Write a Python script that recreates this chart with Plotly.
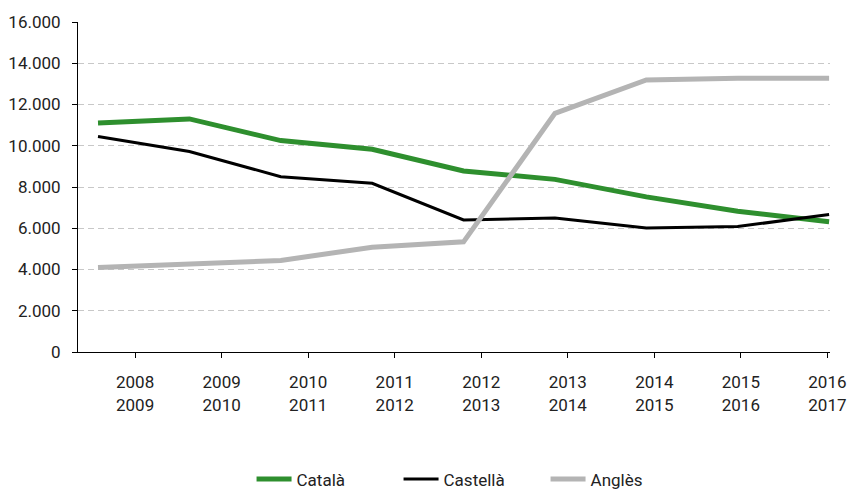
import plotly.graph_objects as go

periods = ["2008<br>2009", "2009<br>2010", "2010<br>2011", "2011<br>2012", "2012<br>2013",
           "2013<br>2014", "2014<br>2015", "2015<br>2016", "2016<br>2017"]
catala = [11100, 11300, 10250, 9830, 8780, 8370, 7520, 6820, 6320]
castella = [10450, 9720, 8500, 8180, 6400, 6500, 6010, 6080, 6670]
angles = [4100, 4280, 4440, 5080, 5340, 11570, 13190, 13270, 13270]
y_ticks = list(range(0, 16001, 2000))

FONT = "Roboto, Arial, sans-serif"

fig = go.Figure()
fig.add_trace(go.Scatter(x=periods, y=catala, name="Català", mode="lines",
                         line=dict(color="#2e8f2e", width=5), xaxis="x"))
fig.add_trace(go.Scatter(x=periods, y=castella, name="Castellà", mode="lines",
                         line=dict(color="#000000", width=3), xaxis="x"))
fig.add_trace(go.Scatter(x=periods, y=angles, name="Anglès", mode="lines",
                         line=dict(color="#b4b4b4", width=5), xaxis="x"))
# invisible trace to carry the label axis
fig.add_trace(go.Scatter(x=periods, y=catala, mode="none", showlegend=False,
                         hoverinfo="skip", xaxis="x2"))

fig.update_layout(
    width=849, height=491,
    margin=dict(l=78, r=19, t=22, b=139, autoexpand=False),
    paper_bgcolor="white", plot_bgcolor="white",
    separators=",.",
    font=dict(family=FONT, size=17, color="#222222"),
    showlegend=True,
    legend=dict(orientation="h", x=0.524, xanchor="center", y=-0.386, yanchor="middle",
                font=dict(family=FONT, size=17, color="#222222"),
                itemwidth=35,
                entrywidth=97, entrywidthmode="pixels"),
    xaxis=dict(type="category", range=[-0.219, 8.01], showticklabels=False,
               showgrid=False, showline=False, ticks="", zeroline=False, automargin=False),
    xaxis2=dict(type="category", overlaying="x", side="bottom", range=[-0.66, 8.03],
                showgrid=False, showline=True, linecolor="#000000", linewidth=1,
                ticks="outside", ticklen=5, tickcolor="#000000", automargin=False,
                ticklabelstandoff=10,
                tickfont=dict(family=FONT, size=17, color="#222222")),
    yaxis=dict(range=[0, 16000], tickvals=y_ticks, tickformat=",d",
               showline=True, linecolor="#000000", linewidth=1,
               ticks="outside", ticklen=5, tickcolor="#000000",
               showgrid=True, gridcolor="#c8c8c8", gridwidth=1, griddash="6px,4px",
               zeroline=False, automargin=False, ticklabelstandoff=8,
               tickfont=dict(family=FONT, size=17, color="#222222")),
)

fig.write_html("out.html", config={"displayModeBar": False},
               post_script="document.body.style.margin='0';document.body.style.overflow='hidden';")
